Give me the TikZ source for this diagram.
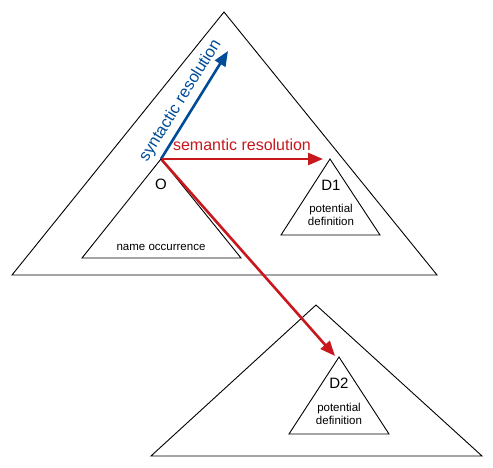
\documentclass[tikz,border=0pt]{standalone}
\usepackage{fontspec}
\setmainfont{Liberation Sans}
\usetikzlibrary{arrows.meta}
\definecolor{synblue}{HTML}{004C99}
\definecolor{semred}{HTML}{C8181E}
\begin{document}
\begin{tikzpicture}[x=1pt,y=-1pt,
  tri/.style={draw=black,line width=0.9pt,line join=miter,fill=white},
  res/.style={line width=2.6pt,-{Triangle[length=15pt,width=12pt]}},
  lbl/.style={inner sep=0pt,font=\fontsize{15}{15}\selectfont},
  small/.style={inner sep=0pt,align=center,font=\fontsize{11.5}{13.5}\selectfont}]
\useasboundingbox (0,0) rectangle (493,468);
% scope triangles
\coordinate (S1top) at (224,12);
\draw[tri] (S1top) -- (437,275) -- (12,275) -- cycle;
\coordinate (S2top) at (316,305);
\draw[tri] (S2top) -- (482,456) -- (151,456) -- cycle;
% O
\coordinate (Otop) at (161,159);
\draw[tri] (Otop) -- (241,258) -- (82,258) -- cycle;
\node[lbl] (O) at (161,184) {O};
\node[small] (Oname) at (161,247) {name occurrence};
% D1
\coordinate (D1top) at (330,159);
\draw[tri] (D1top) -- (380,235) -- (281,235) -- cycle;
\node[lbl] (D1) at (331,185) {D1};
\node[small] (D1def) at (331,215) {potential\\definition};
% D2
\coordinate (D2top) at (339,357);
\draw[tri] (D2top) -- (389,434) -- (289,434) -- cycle;
\node[lbl] (D2) at (339,383) {D2};
\node[small] (D2def) at (339,414) {potential\\definition};
% arrows
\coordinate (Syn) at (228,51);
\coordinate (D1tip) at (323,159);
\coordinate (D2tip) at (335,356);
\draw[res,synblue] (Otop) -- (Syn) node[pos=0.47,sloped,above=5pt,inner sep=0pt,font=\fontsize{16.5}{16.5}\selectfont] (synlbl) {syntactic resolution};
\draw[res,semred,shorten <=1pt] (Otop) -- (D1tip);
\node[inner sep=0pt,text=semred,font=\fontsize{16}{16}\selectfont] (semlbl) at (242,145) {semantic resolution};
\draw[res,semred,shorten <=1pt] (Otop) -- (D2tip);
\end{tikzpicture}
\end{document}
